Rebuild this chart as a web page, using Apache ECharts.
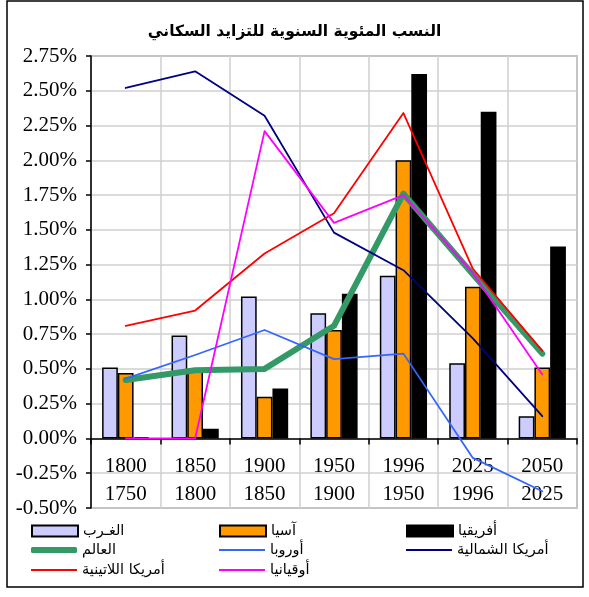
<!DOCTYPE html>
<html>
<head>
<meta charset="utf-8">
<script src="https://cdn.jsdelivr.net/npm/echarts@6/dist/echarts.min.js"></script>
<style>
  html, body { margin: 0; padding: 0; background: #fff; }
  #chart { width: 589px; height: 597px; }
</style>
</head>
<body>
<div id="chart"></div>
<script>
// periods: upper line is the end year, lower line the start year
var periodEnd = ['1800', '1850', '1900', '1950', '1996', '2025', '2050'];
var periodStart = ['1750', '1800', '1850', '1900', '1950', '1996', '2025'];

// annual growth rates, in percent
var west = [0.51, 0.74, 1.02, 0.90, 1.17, 0.54, 0.16];
var asia = [0.47, 0.49, 0.30, 0.78, 2.00, 1.09, 0.51];
var africa = [0.01, 0.07, 0.36, 1.04, 2.62, 2.35, 1.38];
var world = [0.42, 0.49, 0.50, 0.81, 1.76, 1.18, 0.61];
var europe = [0.43, 0.60, 0.78, 0.57, 0.61, -0.14, -0.38];
var northAmerica = [2.52, 2.64, 2.32, 1.48, 1.21, 0.72, 0.16];
var latinAmerica = [0.81, 0.92, 1.33, 1.62, 2.34, 1.22, 0.63];
var oceania = [0, 0, 2.21, 1.55, 1.75, 1.19, 0.46];

var categories = periodEnd.map(function (e, i) { return e + '\n' + periodStart[i]; });

var chart = document.getElementById('chart');
var myChart = echarts.init(chart);

var arabicFont = 'DejaVu Sans';
var serifFont = 'Liberation Serif';

// one legend per entry so the 3x3 layout of the original can be kept
function legendAt(name, icon, h, left, centerY) {
  return {
    data: [{ name: name, icon: icon }],
    left: left,
    top: centerY - 8,
    itemWidth: 46,
    itemHeight: h,
    itemGap: 0,
    padding: 0,
    selectedMode: false,
    textStyle: { fontFamily: arabicFont, fontSize: 14.5, color: '#000', lineHeight: 16 }
  };
}

function lineSeries(name, data, color, width) {
  return {
    name: name,
    type: 'line',
    xAxisIndex: 0,
    data: data,
    symbol: 'none',
    lineStyle: { color: color, width: width, cap: 'round', join: 'round' },
    itemStyle: { color: color },
    z: 3
  };
}

function barSeries(name, data, color) {
  return {
    name: name,
    type: 'bar',
    xAxisIndex: 0,
    data: data,
    barGap: '0%',
    barCategoryGap: '32%',
    itemStyle: { color: color, borderColor: '#000', borderWidth: 1.5 },
    z: 2
  };
}

var option = {
  animation: false,
  backgroundColor: '#fff',
  title: {
    text: 'النسب المئوية السنوية للتزايد السكاني',
    left: 'center',
    top: 19,
    textStyle: { fontFamily: arabicFont, fontSize: 15.5, fontWeight: 'bold', color: '#000' }
  },
  legend: [
    legendAt('الغـرب', 'rect', 11, 31, 531),
    legendAt('آسيا', 'rect', 11, 219, 531),
    legendAt('أفريقيا', 'rect', 11, 406, 531),
    legendAt('العالم', 'roundRect', 6, 31, 550),
    legendAt('أوروبا', 'rect', 2, 219, 550),
    legendAt('أمريكا الشمالية', 'rect', 2, 406, 550),
    legendAt('أمريكا اللاتينية', 'rect', 2, 31, 570),
    legendAt('أوقيانيا', 'rect', 2, 219, 570)
  ],
  grid: {
    left: 91,
    right: 12,
    top: 56,
    bottom: 89,
    show: true,
    borderColor: '#888',
    borderWidth: 1.5
  },
  xAxis: [
    {
      // axis line and ticks on the zero line
      type: 'category',
      data: categories,
      axisLine: { onZero: true, lineStyle: { color: '#000', width: 1.5 } },
      axisTick: { show: true, length: 6, lineStyle: { color: '#000', width: 1.5 } },
      splitLine: { show: true, lineStyle: { color: '#cfcfcf', width: 1.5 } },
      axisLabel: { show: false }
    },
    {
      // the two-line period labels sit inside the negative band
      type: 'category',
      data: categories,
      position: 'bottom',
      axisLine: { show: false, onZero: false },
      axisTick: { show: false },
      splitLine: { show: false },
      axisLabel: {
        interval: 0,
        margin: -56,
        fontFamily: serifFont,
        fontSize: 21,
        lineHeight: 28,
        color: '#000'
      }
    }
  ],
  yAxis: {
    type: 'value',
    min: -0.5,
    max: 2.75,
    interval: 0.25,
    axisLine: { show: true, lineStyle: { color: '#000', width: 1.5 } },
    axisTick: { show: true, length: 5, lineStyle: { color: '#000', width: 1.5 } },
    splitLine: { show: true, lineStyle: { color: '#cfcfcf', width: 1.5 } },
    axisLabel: {
      margin: 14,
      fontFamily: serifFont,
      fontSize: 21,
      color: '#000',
      formatter: function (v) { return v.toFixed(2) + '%'; }
    }
  },
  graphic: [
    {
      type: 'rect',
      shape: { x: 7, y: 1, width: 576, height: 586 },
      style: { fill: 'none', stroke: '#000', lineWidth: 1.5 },
      silent: true
    }
  ],
  series: [
    barSeries('الغـرب', west, '#CCCCFF'),
    barSeries('آسيا', asia, '#FF9900'),
    barSeries('أفريقيا', africa, '#000000'),
    lineSeries('العالم', world, '#339966', 6),
    lineSeries('أوروبا', europe, '#3366FF', 1.8),
    lineSeries('أمريكا الشمالية', northAmerica, '#000080', 1.8),
    lineSeries('أمريكا اللاتينية', latinAmerica, '#FF0000', 1.8),
    lineSeries('أوقيانيا', oceania, '#FF00FF', 1.8)
  ]
};

myChart.setOption(option);
</script>
</body>
</html>
